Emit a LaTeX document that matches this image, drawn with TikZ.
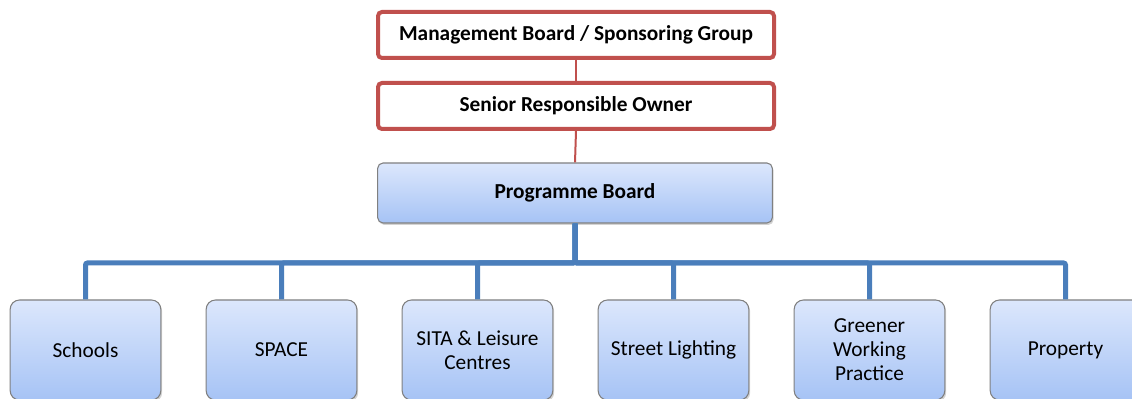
\documentclass[tikz,border=0pt]{standalone}
\usepackage{fontspec}
\setmainfont{Carlito}
\usetikzlibrary{shadows}
\definecolor{boardred}{RGB}{192,80,77}
\definecolor{treeblue}{RGB}{74,126,187}
\definecolor{boxtop}{RGB}{220,231,252}
\definecolor{boxbottom}{RGB}{166,195,245}
\definecolor{boxline}{RGB}{128,128,128}

\begin{document}
\begin{tikzpicture}[x=0.75pt,y=0.75pt,
  redbox/.style={draw=boardred,line width=3pt,rounded corners=3pt,fill=white,
    minimum width=297pt,minimum height=34.5pt,font=\bfseries\fontsize{16}{19}\selectfont},
  bluebox/.style={draw=boxline,line width=0.8pt,top color=boxtop,bottom color=boxbottom,
    drop shadow={opacity=0.35,shadow xshift=1pt,shadow yshift=-1.5pt}},
  pbbox/.style={bluebox,rounded corners=4pt,minimum width=296pt,minimum height=45pt,
    font=\bfseries\fontsize{16}{19}\selectfont},
  unitbox/.style={bluebox,rounded corners=7pt,minimum width=113pt,minimum height=75pt,
    align=center,font=\fontsize{16}{18}\selectfont},
  redlink/.style={draw=boardred,line width=1.5pt},
  branch/.style={draw=treeblue,line width=3.75pt,rounded corners=1.5pt}]
\useasboundingbox (0,0) rectangle (1132,399);

% board levels
\node[redbox] (mb) at (576,364) {Management Board / Sponsoring Group};
\node[redbox] (sro) at (576,293) {Senior Responsible Owner};
\node[pbbox] (pb) at (575,206) {Programme Board};
\draw[redlink] (mb.south) -- (sro.north);
\draw[redlink] (sro.south) -- (pb.north);

% workstreams
\node[unitbox] (schools) at (85.5,49) {Schools};
\node[unitbox] (space) at (281.5,49) {SPACE};
\node[unitbox] (sita) at (477.5,49) {SITA \& Leisure\\Centres};
\node[unitbox] (lighting) at (673.5,49) {Street Lighting};
\node[unitbox] (greener) at (869.5,49) {Greener\\Working\\Practice};
\node[unitbox] (property) at (1065.5,49) {Property};

\coordinate (bar) at (575,136);
\foreach \u in {schools,space,sita,lighting,greener,property}
  \draw[branch] (pb.south) -- (bar) -| (\u.north);
\end{tikzpicture}
\end{document}
